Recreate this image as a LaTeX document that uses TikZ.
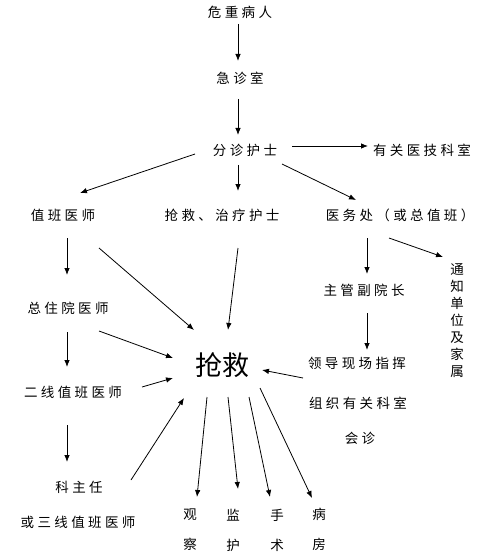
\documentclass[tikz,border=0pt]{standalone}
\usepackage{fontspec}
\newfontfamily\cjk[LetterSpace=25]{Noto Sans CJK SC}
\newfontfamily\cjkbig{Noto Sans CJK SC}
\usetikzlibrary{arrows.meta}
\begin{document}
\begin{tikzpicture}[x=1pt,y=-1pt,
  lbl/.style={inner sep=0pt,font=\cjk\fontsize{13.5}{17}\selectfont},
  vlbl/.style={inner sep=0pt,align=center,font=\cjk\fontsize{13.5}{17}\selectfont},
  vlbl2/.style={inner sep=0pt,align=center,font=\cjk\fontsize{13.5}{30}\selectfont},
  arr/.style={line width=0.8pt,-{Latex[length=7pt,width=5.5pt]}}]
\useasboundingbox[fill=white] (0,0) rectangle (480,556);
\node[lbl] (n1) at (240,12) {危重病人};
\node[lbl] (n2) at (240,78) {急诊室};
\node[lbl] (n3) at (245,150) {分诊护士};
\node[lbl] (n4) at (422,150) {有关医技科室};
\node[lbl] (n5) at (63,215) {值班医师};
\node[lbl] (n6) at (222,215) {抢救、治疗护士};
\node[lbl] (n7) at (400,215) {医务处（或总值班）};
\node[vlbl] (n8) at (457,321) {通\\知\\单\\位\\及\\家\\属};
\node[lbl] (n9) at (364,290) {主管副院长};
\node[lbl] (n10) at (357,363) {领导现场指挥};
\node[lbl] (n11) at (358,403) {组织有关科室};
\node[lbl] (n12) at (360,438) {会诊};
\node[inner sep=0pt,font=\cjkbig\fontsize{27}{30}\selectfont] (qj) at (222,365) {抢救};
\node[lbl] (n13) at (68,308) {总住院医师};
\node[lbl] (n14) at (73,392) {二线值班医师};
\node[lbl] (n15) at (79,487) {科主任};
\node[lbl] (n16) at (78,522) {或三线值班医师};
\node[vlbl2] (g) at (190,530) {观\\察};
\node[vlbl2] (jh) at (233,530) {监\\护};
\node[vlbl2] (ss) at (277,530) {手\\术};
\node[vlbl2] (bf) at (319,529) {病\\房};
\draw[arr] ([shift={(-2,12)}]n1.center) -- ([shift={(-2,-17)}]n2.center);
\draw[arr] ([shift={(-2,21)}]n2.center) -- ([shift={(-7,-15)}]n3.center);
\draw[arr] ([shift={(47,-4)}]n3.center) -- ([shift={(-54,-4)}]n4.center);
\draw[arr] ([shift={(-50,4)}]n3.center) -- ([shift={(17,-22)}]n5.center);
\draw[arr] ([shift={(-7,15)}]n3.center) -- ([shift={(16,-24)}]n6.center);
\draw[arr] ([shift={(37,14)}]n3.center) -- ([shift={(-44,-15)}]n7.center);
\draw[arr] ([shift={(4,23)}]n5.center) -- ([shift={(-1,-33)}]n13.center);
\draw[arr] ([shift={(36,33)}]n5.center) -- ([shift={(-28,-35)}]qj.center);
\draw[arr] ([shift={(16,33)}]n6.center) -- ([shift={(6,-35)}]qj.center);
\draw[arr] ([shift={(-33,23)}]n7.center) -- ([shift={(3,-16)}]n9.center);
\draw[arr] ([shift={(-11,23)}]n7.center) -- ([shift={(-14,-64)}]n8.center);
\draw[arr] ([shift={(3,23)}]n9.center) -- ([shift={(10,-13)}]n10.center);
\draw[arr] ([shift={(-54,15)}]n10.center) -- ([shift={(40,5)}]qj.center);
\draw[arr] ([shift={(-1,24)}]n13.center) -- ([shift={(-6,-25)}]n14.center);
\draw[arr] ([shift={(31,23)}]n13.center) -- ([shift={(-49,-7)}]qj.center);
\draw[arr] ([shift={(69,-5)}]n14.center) -- ([shift={(-49,13)}]qj.center);
\draw[arr] ([shift={(-6,33)}]n14.center) -- ([shift={(-12,-25)}]n15.center);
\draw[arr] ([shift={(52,-7)}]n15.center) -- ([shift={(-38,33)}]qj.center);
\draw[arr] ([shift={(-15,32)}]qj.center) -- ([shift={(7,-33)}]g.center);
\draw[arr] ([shift={(6,32)}]qj.center) -- ([shift={(5,-41)}]jh.center);
\draw[arr] ([shift={(27,32)}]qj.center) -- ([shift={(-7,-33)}]ss.center);
\draw[arr] ([shift={(38,23)}]qj.center) -- ([shift={(-7,-31)}]bf.center);
\end{tikzpicture}
\end{document}
